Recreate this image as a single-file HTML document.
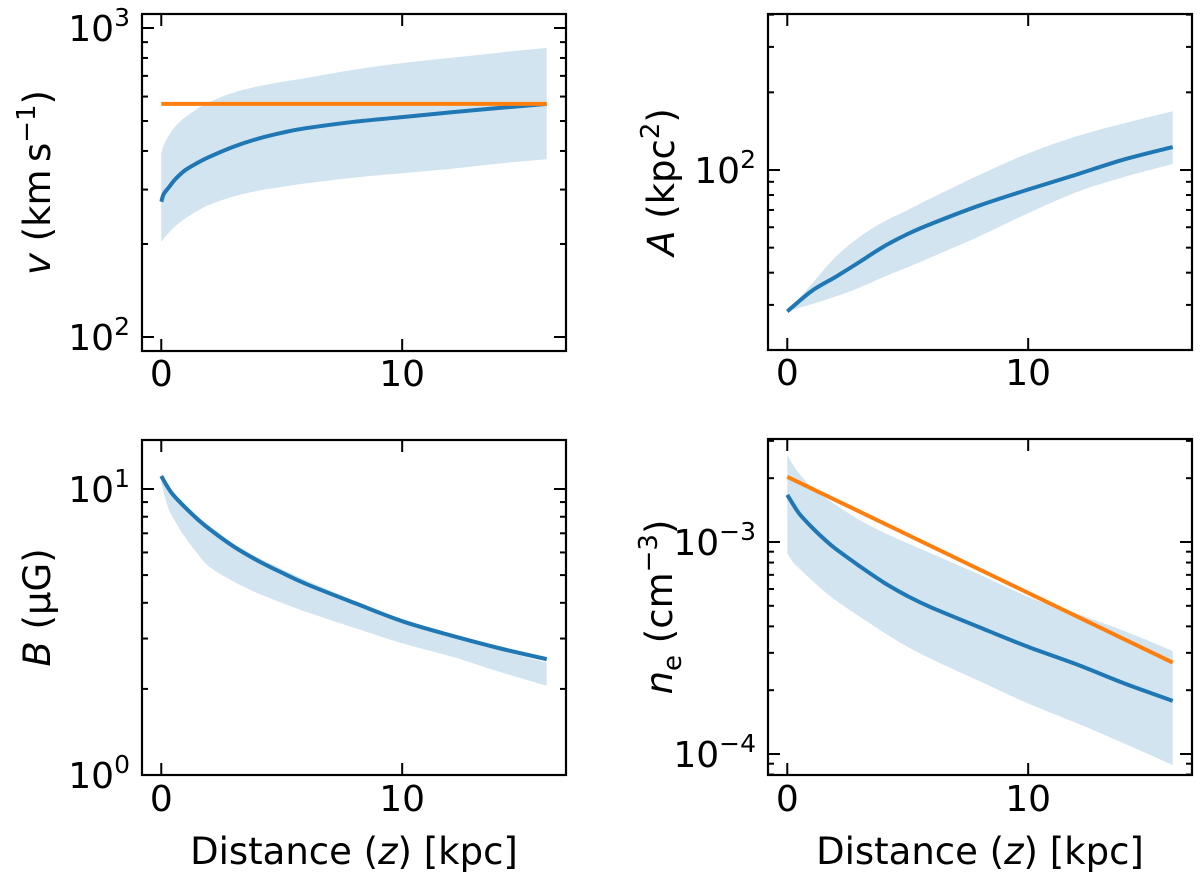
<!DOCTYPE html>
<html><head><meta charset="utf-8"><style>
html,body{margin:0;padding:0;background:#fff;}
svg{display:block;font-family:"DejaVu Sans","Liberation Sans",sans-serif;}
</style></head><body>
<svg id="fig" width="1200" height="880" viewBox="0 0 1200 880" xmlns="http://www.w3.org/2000/svg"></svg>
<script>
// ---- data ----
const vZ =   [0,0.1,0.3,0.6,1,1.5,2,3,4,5,6,8,10,12,14,16];
const vMed = [274,290,304,325,347,366,383,413,438,458,474,497,515,533,551,568];
const vUp =  [394,418,447,482,515,548,576,618,647,669,689,733,770,800,832,862];
const vLo =  [203,208,217,229,242,256,268,285,297,306,314,328,339,350,364,376];
const vModelZ = [0,16];
const vModel = [568,568];

const aZ =   [0,1,2,3,4,5,6,8,10,12,14,16];
const aMed = [28.3,33.9,38.5,44,50.5,56.5,62,73,84,96,110,122.7];
const aUp =  [28.3,36,46,55,63,70,78,96,116,135,152,169];
const aLo =  [28.3,30.2,32.3,35,38.5,42,46,55.5,68,82,94,105.5];

const bZ =   [0,0.25,0.5,1,1.5,2,3,4,5,6,8,10,12,14,16];
const bMed = [11.1,10.2,9.52,8.6,7.85,7.24,6.3,5.62,5.10,4.66,4.0,3.45,3.08,2.78,2.54];
const bUp =  [11.1,10.4,9.75,8.85,8.05,7.45,6.45,5.77,5.25,4.8,4.08,3.5,3.1,2.75,2.47];
const bLo =  [10.5,8.8,7.9,6.75,5.95,5.34,4.75,4.32,4.0,3.72,3.27,2.89,2.6,2.3,2.05];

const nZ =   [0,0.25,0.5,1,1.5,2,3,4,5,6,8,10,12,14,16];
const nMed = [1.667e-3,1.5e-3,1.36e-3,1.18e-3,1.04e-3,9.3e-4,7.7e-4,6.45e-4,5.55e-4,4.9e-4,3.95e-4,3.2e-4,2.65e-4,2.15e-4,1.78e-4];
const nUp =  [2.57e-3,2.3e-3,2.1e-3,1.82e-3,1.64e-3,1.50e-3,1.27e-3,1.11e-3,9.86e-4,8.8e-4,7.0e-4,5.52e-4,4.6e-4,3.8e-4,3.06e-4];
const nLo =  [8.85e-4,8.0e-4,7.5e-4,6.62e-4,5.9e-4,5.32e-4,4.45e-4,3.75e-4,3.2e-4,2.8e-4,2.2e-4,1.73e-4,1.4e-4,1.12e-4,8.87e-5];
const nModelZ = [0,16];
const nModel = [2.03e-3,2.70e-4];

const xTicks = [0,10];

const NS = "http://www.w3.org/2000/svg";
const svg = document.getElementById('fig');
function mk(tag, attrs, parent){
  const e = document.createElementNS(NS, tag);
  for (const k in attrs) e.setAttribute(k, attrs[k]);
  (parent||svg).appendChild(e);
  return e;
}
function smooth(p, start){
  let d = start ? 'M'+p[0][0].toFixed(1)+','+p[0][1].toFixed(1) : 'L'+p[0][0].toFixed(1)+','+p[0][1].toFixed(1);
  for (let i=0;i<p.length-1;i++){
    const p0=p[Math.max(i-1,0)], p1=p[i], p2=p[i+1], p3=p[Math.min(i+2,p.length-1)];
    const c1=[p1[0]+(p2[0]-p0[0])/6, p1[1]+(p2[1]-p0[1])/6];
    const c2=[p2[0]-(p3[0]-p1[0])/6, p2[1]-(p3[1]-p1[1])/6];
    d += ` C${c1[0].toFixed(1)},${c1[1].toFixed(1)} ${c2[0].toFixed(1)},${c2[1].toFixed(1)} ${p2[0].toFixed(1)},${p2[1].toFixed(1)}`;
  }
  return d;
}

function panel(cfg){
  const g = mk('g', {});
  
  
  const L=cfg.x0, R=cfg.x1, T=cfg.y0, B=cfg.y1;
  const xmin=-0.8, xmax=16.8;
  const X = z => L + (z - xmin)/(xmax - xmin)*(R-L);
  const Y = v => B - (Math.log10(v) - cfg.lmin)/(cfg.lmax - cfg.lmin)*(B-T);
  const up = cfg.z.map((z,i)=>[X(z),Y(cfg.up[i])]);
  const lo = cfg.z.map((z,i)=>[X(z),Y(cfg.lo[i])]).reverse();
  const band = mk('path', {d: smooth(up,true)+' '+smooth(lo,false)+' Z', fill:'#1f77b4', 'fill-opacity':'0.2', stroke:'none'}, g);
  
  
  const mp = cfg.z.map((z,i)=>[X(z),Y(cfg.med[i])]);
  const ml = mk('path', {d: smooth(mp,true), fill:'none', stroke:'#1f77b4', 'stroke-width':'4', 'stroke-linejoin':'round'}, g);
  
  
  if (cfg.mz){
    const op = cfg.mz.map((z,i)=>X(z).toFixed(1)+','+Y(cfg.mv[i]).toFixed(1)).join(' ');
    const ol = mk('polyline', {points: op, fill:'none', stroke:'#ff7f0e', 'stroke-width':'4'}, g);
    
    
  }
  const tk = mk('g', {stroke:'#000', 'stroke-width':'2'}, g);
  
  
  xTicks.forEach(t=>{
    const x = X(t);
    mk('line',{x1:x,x2:x,y1:B,y2:B-12},tk);
    mk('line',{x1:x,x2:x,y1:T,y2:T+12},tk);
    const tl = mk('text',{x:x,y:B+cfg.xtl,'font-size':'36','text-anchor':'middle',fill:'#000',stroke:'none'},g);
    tl.textContent = t;
    
    
  });
  for (let d=Math.floor(cfg.lmin); d<=Math.ceil(cfg.lmax); d++){
    for (let m=1;m<10;m++){
      const lv = d + Math.log10(m);
      if (lv < cfg.lmin-1e-6 || lv > cfg.lmax+1e-6) continue;
      const y = B - (lv - cfg.lmin)/(cfg.lmax - cfg.lmin)*(B-T);
      const len = m===1?12:6;
      mk('line',{x1:L,x2:L+len,y1:y,y2:y},tk);
      mk('line',{x1:R,x2:R-len,y1:y,y2:y},tk);
      if (m===1){
        const tl = mk('text',{x:L-12,y:y+13,'font-size':'36','text-anchor':'end',fill:'#000',stroke:'none'},g);
        
        
        const b = mk('tspan',{},tl); b.textContent='10';
        const s = mk('tspan',{dy:'-15','font-size':'25'},tl); s.textContent = String(d).replace('-','\u2212');
      }
    }
  }
  const fr = mk('rect',{x:L,y:T,width:R-L,height:B-T,fill:'none',stroke:'#000','stroke-width':'2.2'},g);
  
  
  const yl = mk('text',{transform:`translate(${cfg.ylx},${(T+B)/2}) rotate(-90)`,'font-size':'37','text-anchor':'middle',fill:'#000'},g);
  
  
  yl.innerHTML = cfg.ylabel;
  if (cfg.xlabel){
    const xl = mk('text',{x:(L+R)/2,y:B+89,'font-size':'37','text-anchor':'middle',fill:'#000'},g);
    
    
    xl.innerHTML = 'Distance (<tspan font-style="italic">z</tspan>) [kpc]';
  }
}

panel({name:'velocity-panel',x0:142,x1:566,y0:14,y1:351,lmin:3-323/309,lmax:3+14/309,
  z:vZ,med:vMed,up:vUp,lo:vLo,mz:vModelZ,mv:vModel,ylx:50,xtl:35,
  ylabel:'<tspan font-style="italic">v</tspan> (km\u2009s<tspan dy="-15" font-size="26">\u22121</tspan><tspan dy="15">)</tspan>'});
panel({name:'area-panel',x0:768,x1:1192,y0:14,y1:350,lmin:2-180/258,lmax:2+156/258,
  z:aZ,med:aMed,up:aUp,lo:aLo,ylx:674,xtl:35,
  ylabel:'<tspan font-style="italic">A</tspan> (kpc<tspan dy="-15" font-size="26">2</tspan><tspan dy="15">)</tspan>'});
panel({name:'magnetic-field-panel',x0:142,x1:566,y0:440,y1:775,lmin:0,lmax:1+49/286,
  z:bZ,med:bMed,up:bUp,lo:bLo,ylx:50,xlabel:true,xtl:36,
  ylabel:'<tspan font-style="italic">B</tspan> (\u03bcG)'});
panel({name:'electron-density-panel',x0:768,x1:1192,y0:439,y1:775,lmin:-3-233/212,lmax:-3+103/212,
  z:nZ,med:nMed,up:nUp,lo:nLo,mz:nModelZ,mv:nModel,ylx:672,xlabel:true,xtl:36,
  ylabel:'<tspan font-style="italic">n</tspan><tspan dy="9" font-size="26">e</tspan><tspan dy="-9"> (cm</tspan><tspan dy="-15" font-size="26">\u22123</tspan><tspan dy="15">)</tspan>'});
</script>
</body></html>
